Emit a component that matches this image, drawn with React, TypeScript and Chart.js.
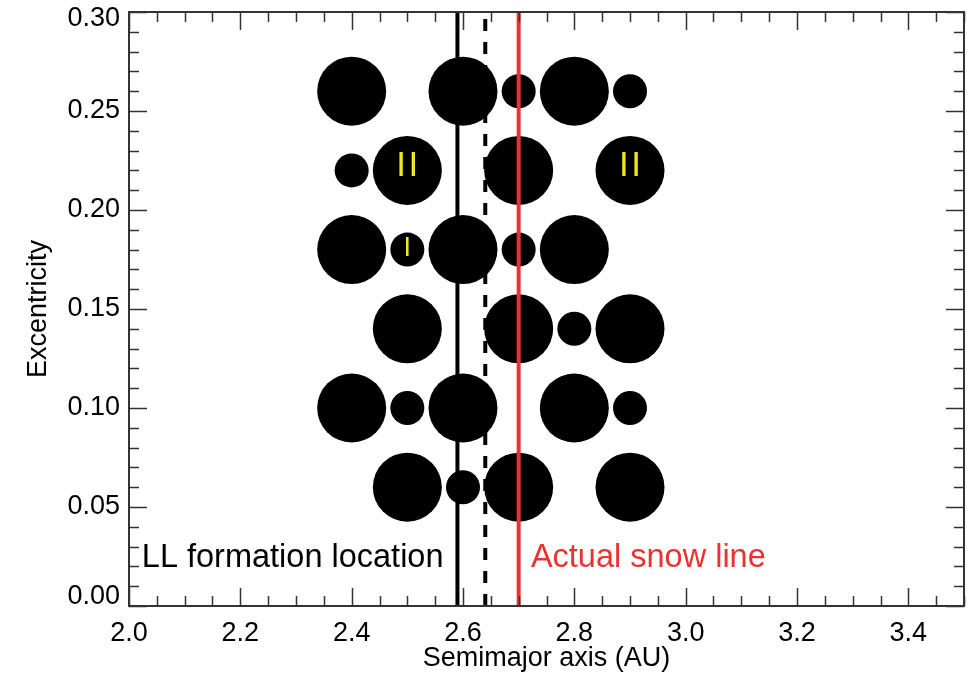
import { useEffect, useRef } from 'react';
import { Chart, registerables } from 'chart.js';
Chart.register(...registerables);

// ---- data ----
const bigX = [2.4, 2.6, 2.8, 2.5, 2.7, 2.9, 2.4, 2.6, 2.8, 2.5, 2.7, 2.9, 2.4, 2.6, 2.8, 2.5, 2.7, 2.9];
const bigY = [0.26, 0.26, 0.26, 0.22, 0.22, 0.22, 0.18, 0.18, 0.18, 0.14, 0.14, 0.14, 0.10, 0.10, 0.10, 0.06, 0.06, 0.06];
const smallX = [2.7, 2.9, 2.4, 2.5, 2.7, 2.8, 2.5, 2.9, 2.6];
const smallY = [0.26, 0.26, 0.22, 0.18, 0.18, 0.14, 0.10, 0.10, 0.06];

const llFormationLocation = 2.59;
const dashedLocation = 2.64;
const actualSnowLine = 2.70;

const xTickValues = [2.0, 2.2, 2.4, 2.6, 2.8, 3.0, 3.2, 3.4];
const yTickValues = [0.0, 0.05, 0.10, 0.15, 0.20, 0.25, 0.30];

const classLabels = [
  { text: 'II', x: 2.5, y: 0.22, size: 35 },
  { text: 'II', x: 2.9, y: 0.22, size: 35 },
  { text: 'I', x: 2.5, y: 0.18, size: 27 },
];

const annotations = [
  { text: 'LL formation location', x: 2.565, y: 0.0197, align: 'right', color: '#000000' },
  { text: 'Actual snow line', x: 2.722, y: 0.0197, align: 'left', color: 'rgb(232,52,48)' },
];

const FONT = '"Liberation Sans", Arial, Helvetica, sans-serif';
const RED = 'rgb(232,52,48)';
const YELLOW = 'rgb(240,230,40)';

const toPts = (xs: number[], ys: number[]) => xs.map((x, i) => ({ x, y: ys[i] }));

const framePlugin = {
  id: 'frameTicks',
  beforeDraw(chart: any) {
    const ys = chart.scales.y;
    const items = ys.getLabelItems();
    items.forEach((it: any) => {
      if (it.__adj) return;
      if (it.label === '0.30') it.options.translation[1] += 7;
      if (it.label === '0.00') it.options.translation[1] -= 9;
      it.__adj = true;
    });
  },
  afterDraw(chart: any) {
    const { ctx, chartArea: a, scales } = chart;
    const xs = scales.x, ys = scales.y;
    ctx.save();
    ctx.strokeStyle = '#333';
    ctx.lineWidth = 1.5;
    for (let i = 0; i <= 30; i++) {
      const v = 2.0 + i * 0.05;
      const major = i % 4 === 0;
      const len = major ? 18 : 10;
      const px = Math.round(xs.getPixelForValue(v)) + 0.5;
      ctx.beginPath();
      ctx.moveTo(px, a.bottom);
      ctx.lineTo(px, a.bottom - len);
      ctx.moveTo(px, a.top);
      ctx.lineTo(px, a.top + len);
      ctx.stroke();
    }
    for (let i = 0; i <= 30; i++) {
      const v = i * 0.01;
      const major = i % 5 === 0;
      const len = major ? 18 : 10;
      const py = Math.round(ys.getPixelForValue(v)) + 0.5;
      ctx.beginPath();
      ctx.moveTo(a.left, py);
      ctx.lineTo(a.left + len, py);
      ctx.moveTo(a.right, py);
      ctx.lineTo(a.right - len, py);
      ctx.stroke();
    }
    ctx.lineWidth = 2;
    ctx.strokeRect(a.left, a.top, a.right - a.left, a.bottom - a.top);

    ctx.fillStyle = YELLOW;
    ctx.textAlign = 'center';
    ctx.textBaseline = 'alphabetic';
    for (const l of classLabels) {
      ctx.font = `${l.size}px ${FONT}`;
      try { (ctx as any).letterSpacing = l.text.length > 1 ? '2.5px' : '0px'; } catch (e) {}
      const px = xs.getPixelForValue(l.x) + (l.text.length > 1 ? 1.25 : 0);
      const py = ys.getPixelForValue(l.y) + 6;
      ctx.fillText(l.text, px, py);
    }
    try { (ctx as any).letterSpacing = '0px'; } catch (e) {}
    ctx.font = `32.5px ${FONT}`;
    for (const t of annotations) {
      ctx.fillStyle = t.color;
      ctx.textAlign = t.align as CanvasTextAlign;
      ctx.fillText(t.text, xs.getPixelForValue(t.x), ys.getPixelForValue(t.y));
    }
    ctx.restore();
  },
};

export default function App() {
  const ref = useRef<HTMLCanvasElement | null>(null);
  useEffect(() => {
    if (!ref.current) return;
    const vline = (x: number, color: string, dash: number[]) => ({
      type: 'line' as const,
      data: [{ x, y: 0 }, { x, y: 0.3 }],
      borderColor: color,
      borderWidth: 4,
      borderDash: dash,
      pointRadius: 0,
      showLine: true,
      fill: false,
      order: 1,
    });
    const chart = new Chart(ref.current, {
      type: 'scatter',
      data: {
        datasets: [
          vline(llFormationLocation, '#000000', []),
          vline(dashedLocation, '#000000', [12, 11]),
          vline(actualSnowLine, RED, []),
          {
            data: toPts(bigX, bigY),
            backgroundColor: '#000000',
            borderWidth: 0,
            pointRadius: 34.5,
            pointHoverRadius: 34.5,
            order: 2,
          } as any,
          {
            data: toPts(smallX, smallY),
            backgroundColor: '#000000',
            borderWidth: 0,
            pointRadius: 17,
            pointHoverRadius: 17,
            order: 2,
          } as any,
        ],
      },
      options: {
        responsive: false,
        animation: false,
        events: [],
        layout: { autoPadding: false, padding: { top: 12, right: 4, left: 0, bottom: 0 } },
        plugins: { legend: { display: false }, tooltip: { enabled: false } },
        scales: {
          x: {
            type: 'linear',
            min: 2.0,
            max: 3.5,
            grid: { display: false, drawTicks: false },
            border: { display: false },
            afterBuildTicks: (s: any) => { s.ticks = xTickValues.map((v) => ({ value: v })); },
            afterFit: (s: any) => { s.height = 72; s.paddingLeft = 0; s.paddingRight = 0; },
            ticks: {
              padding: 11,
              maxRotation: 0,
              autoSkip: false,
              color: '#000',
              font: { family: FONT, size: 27 },
              callback: (v: any) => Number(v).toFixed(1),
            },
            title: {
              display: true,
              text: 'Semimajor axis (AU)',
              color: '#000',
              font: { family: FONT, size: 27 },
              padding: { top: 0, bottom: 3 },
            },
          },
          y: {
            type: 'linear',
            min: 0,
            max: 0.3,
            grid: { display: false, drawTicks: false },
            border: { display: false },
            afterBuildTicks: (s: any) => { s.ticks = yTickValues.map((v) => ({ value: v })); },
            afterFit: (s: any) => { s.width = 129; s.paddingTop = 0; s.paddingBottom = 0; },
            ticks: {
              padding: 9,
              autoSkip: false,
              color: '#000',
              font: { family: FONT, size: 27 },
              callback: (v: any) => Number(v).toFixed(2),
            },
            title: {
              display: true,
              text: 'Excentricity',
              color: '#000',
              font: { family: FONT, size: 27 },
              padding: { top: 22, bottom: 0 },
            },
          },
        },
      },
      plugins: [framePlugin],
    } as any);
    return () => chart.destroy();
  }, []);
  return (
    <div style={{ position: 'fixed', left: 0, top: 0, width: 968, height: 678, background: '#fff' }}>
      <canvas ref={ref} width={968} height={678} style={{ width: 968, height: 678, display: 'block' }} />
    </div>
  );
}
